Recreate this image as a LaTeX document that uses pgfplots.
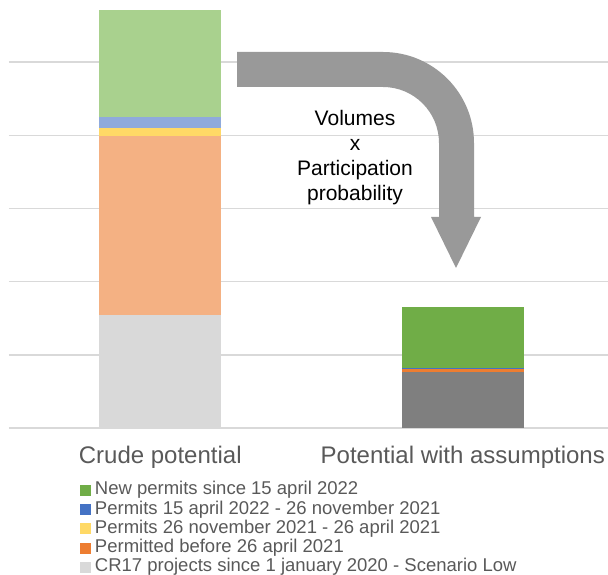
\documentclass[border=0pt]{standalone}
\usepackage{pgfplots}
\pgfplotsset{compat=1.18}
\usepackage{fontspec}
\setmainfont{Liberation Sans}
\definecolor{grayA}{HTML}{D9D9D9}
\definecolor{grayB}{HTML}{7F7F7F}
\definecolor{orA}{HTML}{F4B183}
\definecolor{orB}{HTML}{ED7D31}
\definecolor{yeA}{HTML}{FFD966}
\definecolor{yeB}{HTML}{FFC000}
\definecolor{blA}{HTML}{8FAADC}
\definecolor{blB}{HTML}{4472C4}
\definecolor{grA}{HTML}{A9D18E}
\definecolor{grB}{HTML}{70AD47}
\definecolor{tick}{HTML}{595959}
\definecolor{gridc}{HTML}{D9D9D9}
\definecolor{arrowc}{HTML}{999999}
\pgfplotsset{sq legend/.style={legend image code/.code={\fill[##1] (0pt,-5pt) rectangle (11pt,6pt);}}}
\begin{document}
\begin{tikzpicture}
\begin{axis}[
  at={(9pt,147pt)}, anchor=south west,
  scale only axis, width=599pt, height=428pt,
  xmin=-0.5, xmax=1.48, ymin=0, ymax=5.85,
  ybar stacked, bar width=122pt,
  axis line style={draw=none},
  major tick length=0pt,
  xtick={0,1}, xticklabels={Crude potential, Potential with assumptions},
  xticklabel style={font=\fontsize{24}{28}\selectfont, text=tick, anchor=base, yshift=-36pt},
  ytick={0,1,2,3,4,5}, yticklabels={},
  ymajorgrids, grid style={color=gridc, line width=1.5pt},
  legend style={at={(0.1185,-0.125)}, anchor=north west, draw=none, fill=none,
    inner sep=0pt, outer sep=0pt, font=\fontsize{18.5}{19.2}\selectfont, text=tick,
    nodes={inner sep=0pt, text height=13.5pt, text depth=5.7pt},
    cells={anchor=west},
    /tikz/every odd column/.append style={column sep=4pt}},
  legend cell align=left,
  clip=false,
]
\addplot[fill=grayA, draw=none, forget plot] coordinates {(0,1.544) (1,0)};
\addplot[fill=grayB, draw=none, forget plot] coordinates {(0,0) (1,0.765)};
\addplot[fill=orA, draw=none, forget plot] coordinates {(0,2.445) (1,0)};
\addplot[fill=orB, draw=none, forget plot] coordinates {(0,0) (1,0.036)};
\addplot[fill=yeA, draw=none, forget plot] coordinates {(0,0.109) (1,0)};
\addplot[fill=yeB, draw=none, forget plot] coordinates {(0,0) (1,0.005)};
\addplot[fill=blA, draw=none, forget plot] coordinates {(0,0.150) (1,0)};
\addplot[fill=blB, draw=none, forget plot] coordinates {(0,0) (1,0.018)};
\addplot[fill=grA, draw=none, forget plot] coordinates {(0,1.462) (1,0)};
\addplot[fill=grB, draw=none, forget plot] coordinates {(0,0) (1,0.833)};
\addlegendimage{sq legend, fill=grB, draw=none}
\addlegendentry{New permits since 15 april 2022}
\addlegendimage{sq legend, fill=blB, draw=none}
\addlegendentry{Permits 15 april 2022 - 26 november 2021}
\addlegendimage{sq legend, fill=yeA, draw=none}
\addlegendentry{Permits 26 november 2021 - 26 april 2021}
\addlegendimage{sq legend, fill=orB, draw=none}
\addlegendentry{Permitted before 26 april 2021}
\addlegendimage{sq legend, fill=grayA, draw=none}
\addlegendentry{CR17 projects since 1 january 2020 - Scenario Low}
\end{axis}
\fill[arrowc] (237pt,523pt) -- (383pt,523pt) arc[start angle=90, end angle=0, radius=91pt]
  -- (474pt,358pt) -- (481pt,358pt) -- (456pt,307pt) -- (431pt,358pt) -- (439pt,358pt)
  -- (439pt,432pt) arc[start angle=0, end angle=90, radius=56pt] -- (237pt,488pt) -- cycle;
\node[align=center, font=\fontsize{21}{25}\selectfont, text=black] at (355pt,417.5pt)
  {Volumes\\x\\Participation\\probability};
\pgfresetboundingbox
\path[use as bounding box] (0,0) rectangle (608pt,575pt);
\end{tikzpicture}
\end{document}
